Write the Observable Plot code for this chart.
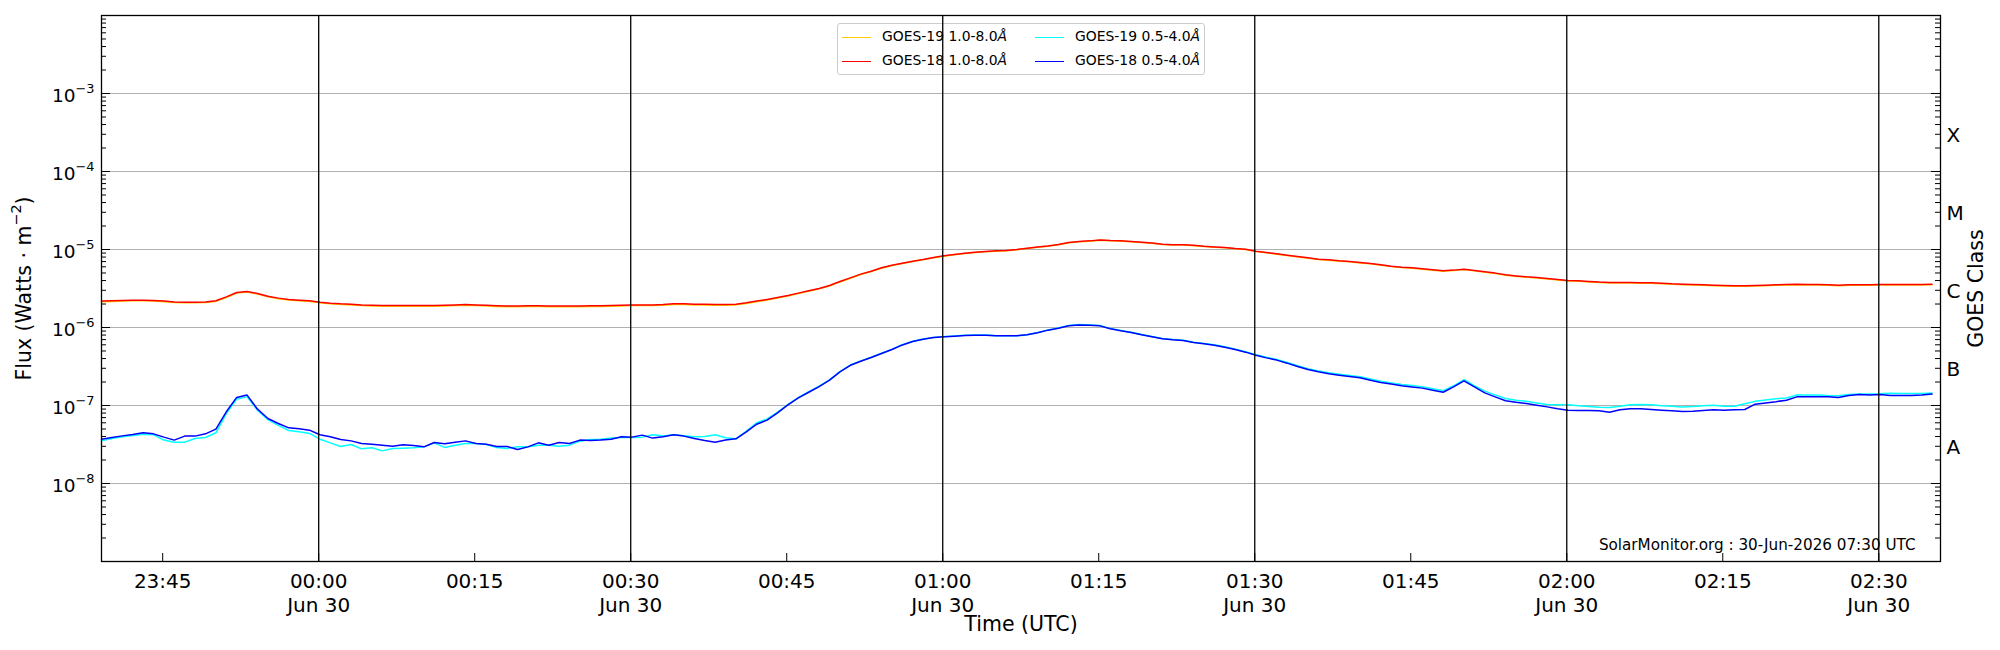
<!DOCTYPE html>
<html>
<head>
<meta charset="utf-8">
<script src="https://cdn.jsdelivr.net/npm/d3@7"></script>
<script src="https://cdn.jsdelivr.net/npm/@observablehq/plot@0.6"></script>
<style>
  html, body { margin: 0; padding: 0; background: white; }
  #wrap { position: relative; width: 2000px; height: 650px; font-family: "DejaVu Sans", sans-serif; }
  #legend { position: absolute; left: 837px; top: 23px; width: 366px; height: 50px; border: 1px solid #cccccc; border-radius: 3px; background: rgba(255,255,255,0.8); z-index: 0; font-family: "DejaVu Sans", sans-serif; font-size: 13.9px; color: #000; }
  #legend .ln { position: absolute; width: 29px; height: 0; border-top: 1.5px solid; }
  #legend .tx { position: absolute; white-space: nowrap; line-height: 1; font-family: "DejaVu Sans", sans-serif; }
  #chart { position: absolute; left: 0; top: 0; z-index: 1; }
</style>
</head>
<body>
<div id="wrap">
  <div id="legend"></div>
  <div id="chart"></div>
</div>
<script>
// ---------- data (1-minute cadence) ----------
const dataStart = "2026-06-29T23:39:07Z";
const cadenceMinutes = 1;
const xDomain = ["2026-06-29T23:39:07Z", "2026-06-30T02:35:56Z"];

const goes19Long = [
2.14e-6,2.16e-6,2.18e-6,2.20e-6,2.20e-6,2.18e-6,2.14e-6,2.09e-6,2.07e-6,2.07e-6,
2.09e-6,2.16e-6,2.42e-6,2.76e-6,2.85e-6,2.68e-6,2.47e-6,2.34e-6,2.25e-6,2.20e-6,
2.16e-6,2.07e-6,2.01e-6,1.97e-6,1.95e-6,1.91e-6,1.89e-6,1.87e-6,1.87e-6,1.87e-6,
1.87e-6,1.87e-6,1.87e-6,1.89e-6,1.91e-6,1.93e-6,1.91e-6,1.89e-6,1.86e-6,1.84e-6,
1.84e-6,1.86e-6,1.86e-6,1.84e-6,1.84e-6,1.84e-6,1.84e-6,1.86e-6,1.86e-6,1.87e-6,
1.89e-6,1.91e-6,1.91e-6,1.91e-6,1.93e-6,1.97e-6,1.97e-6,1.95e-6,1.95e-6,1.93e-6,
1.93e-6,1.95e-6,2.03e-6,2.14e-6,2.25e-6,2.38e-6,2.53e-6,2.72e-6,2.92e-6,3.13e-6,
3.41e-6,3.84e-6,4.28e-6,4.77e-6,5.21e-6,5.76e-6,6.23e-6,6.61e-6,7.02e-6,7.37e-6,
7.83e-6,8.21e-6,8.55e-6,8.90e-6,9.16e-6,9.35e-6,9.53e-6,9.63e-6,9.92e-6,1.03e-5,
1.07e-5,1.10e-5,1.15e-5,1.22e-5,1.26e-5,1.28e-5,1.31e-5,1.29e-5,1.28e-5,1.26e-5,
1.23e-5,1.20e-5,1.16e-5,1.14e-5,1.14e-5,1.12e-5,1.09e-5,1.07e-5,1.05e-5,1.02e-5,
1.00e-5,9.43e-6,9.06e-6,8.71e-6,8.37e-6,8.04e-6,7.74e-6,7.43e-6,7.29e-6,7.08e-6,
6.94e-6,6.73e-6,6.55e-6,6.29e-6,6.04e-6,5.87e-6,5.75e-6,5.58e-6,5.42e-6,5.27e-6,
5.38e-6,5.54e-6,5.32e-6,5.11e-6,4.92e-6,4.67e-6,4.53e-6,4.40e-6,4.32e-6,4.19e-6,
4.07e-6,3.95e-6,3.92e-6,3.84e-6,3.77e-6,3.73e-6,3.73e-6,3.73e-6,3.69e-6,3.69e-6,
3.65e-6,3.58e-6,3.54e-6,3.51e-6,3.47e-6,3.44e-6,3.40e-6,3.37e-6,3.37e-6,3.40e-6,
3.44e-6,3.47e-6,3.51e-6,3.54e-6,3.51e-6,3.51e-6,3.47e-6,3.44e-6,3.47e-6,3.47e-6,
3.47e-6,3.51e-6,3.51e-6,3.51e-6,3.51e-6,3.51e-6,3.54e-6];

const goes18Long = [
2.18e-6,2.20e-6,2.22e-6,2.24e-6,2.24e-6,2.22e-6,2.18e-6,2.13e-6,2.11e-6,2.11e-6,
2.13e-6,2.20e-6,2.47e-6,2.81e-6,2.90e-6,2.73e-6,2.52e-6,2.38e-6,2.29e-6,2.24e-6,
2.20e-6,2.11e-6,2.05e-6,2.01e-6,1.99e-6,1.95e-6,1.93e-6,1.91e-6,1.91e-6,1.91e-6,
1.91e-6,1.91e-6,1.91e-6,1.93e-6,1.95e-6,1.97e-6,1.95e-6,1.93e-6,1.90e-6,1.88e-6,
1.88e-6,1.90e-6,1.90e-6,1.88e-6,1.88e-6,1.88e-6,1.88e-6,1.90e-6,1.90e-6,1.91e-6,
1.93e-6,1.95e-6,1.95e-6,1.95e-6,1.97e-6,2.01e-6,2.01e-6,1.99e-6,1.99e-6,1.97e-6,
1.97e-6,1.99e-6,2.07e-6,2.18e-6,2.29e-6,2.42e-6,2.57e-6,2.76e-6,2.96e-6,3.17e-6,
3.46e-6,3.89e-6,4.33e-6,4.83e-6,5.27e-6,5.82e-6,6.30e-6,6.68e-6,7.09e-6,7.44e-6,
7.90e-6,8.29e-6,8.63e-6,8.98e-6,9.24e-6,9.43e-6,9.61e-6,9.71e-6,1.00e-5,1.04e-5,
1.08e-5,1.11e-5,1.16e-5,1.23e-5,1.27e-5,1.29e-5,1.32e-5,1.30e-5,1.29e-5,1.27e-5,
1.24e-5,1.21e-5,1.17e-5,1.15e-5,1.15e-5,1.13e-5,1.10e-5,1.08e-5,1.06e-5,1.03e-5,
1.01e-5,9.52e-6,9.15e-6,8.80e-6,8.46e-6,8.13e-6,7.82e-6,7.51e-6,7.37e-6,7.16e-6,
7.02e-6,6.81e-6,6.62e-6,6.36e-6,6.11e-6,5.94e-6,5.82e-6,5.65e-6,5.49e-6,5.33e-6,
5.44e-6,5.60e-6,5.38e-6,5.17e-6,4.98e-6,4.73e-6,4.59e-6,4.46e-6,4.38e-6,4.25e-6,
4.12e-6,4.00e-6,3.97e-6,3.89e-6,3.82e-6,3.78e-6,3.78e-6,3.78e-6,3.74e-6,3.74e-6,
3.70e-6,3.63e-6,3.59e-6,3.56e-6,3.52e-6,3.49e-6,3.45e-6,3.42e-6,3.42e-6,3.45e-6,
3.49e-6,3.52e-6,3.56e-6,3.59e-6,3.56e-6,3.56e-6,3.52e-6,3.49e-6,3.52e-6,3.52e-6,
3.52e-6,3.56e-6,3.56e-6,3.56e-6,3.56e-6,3.56e-6,3.59e-6];

const goes19Short = [
3.52e-8,3.78e-8,3.97e-8,4.12e-8,4.29e-8,4.21e-8,3.60e-8,3.39e-8,3.39e-8,3.78e-8,
3.89e-8,4.47e-8,7.89e-8,1.21e-7,1.29e-7,8.70e-8,6.60e-8,5.55e-8,4.78e-8,4.60e-8,
4.38e-8,3.70e-8,3.32e-8,2.98e-8,3.16e-8,2.78e-8,2.87e-8,2.62e-8,2.81e-8,2.84e-8,
2.87e-8,2.95e-8,3.32e-8,2.90e-8,3.10e-8,3.26e-8,3.26e-8,3.16e-8,2.90e-8,2.81e-8,
2.95e-8,2.95e-8,3.10e-8,3.10e-8,3.01e-8,3.10e-8,3.49e-8,3.66e-8,3.70e-8,3.82e-8,
3.89e-8,3.89e-8,3.93e-8,4.21e-8,4.05e-8,4.21e-8,4.08e-8,3.97e-8,4.01e-8,4.21e-8,
3.86e-8,3.74e-8,4.69e-8,6.00e-8,6.74e-8,8.20e-8,1.03e-7,1.26e-7,1.50e-7,1.77e-7,
2.13e-7,2.72e-7,3.30e-7,3.73e-7,4.15e-7,4.68e-7,5.25e-7,6.02e-7,6.65e-7,7.10e-7,
7.47e-7,7.62e-7,7.78e-7,7.93e-7,8.00e-7,8.00e-7,7.86e-7,7.85e-7,7.86e-7,8.09e-7,
8.60e-7,9.30e-7,9.86e-7,1.06e-6,1.09e-6,1.08e-6,1.06e-6,9.68e-7,9.13e-7,8.69e-7,
8.11e-7,7.65e-7,7.22e-7,7.01e-7,6.87e-7,6.48e-7,6.24e-7,6.00e-7,5.65e-7,5.28e-7,
4.89e-7,4.48e-7,4.15e-7,3.89e-7,3.56e-7,3.23e-7,2.97e-7,2.78e-7,2.63e-7,2.52e-7,
2.43e-7,2.34e-7,2.18e-7,2.04e-7,1.95e-7,1.86e-7,1.80e-7,1.74e-7,1.64e-7,1.55e-7,
1.79e-7,2.14e-7,1.80e-7,1.53e-7,1.37e-7,1.23e-7,1.17e-7,1.13e-7,1.08e-7,1.03e-7,
1.02e-7,1.02e-7,9.90e-8,9.70e-8,9.50e-8,9.40e-8,9.80e-8,1.02e-7,1.03e-7,1.02e-7,
9.90e-8,9.80e-8,9.60e-8,9.70e-8,9.90e-8,1.01e-7,9.80e-8,9.80e-8,1.05e-7,1.13e-7,
1.18e-7,1.22e-7,1.25e-7,1.36e-7,1.36e-7,1.36e-7,1.34e-7,1.33e-7,1.38e-7,1.40e-7,
1.40e-7,1.41e-7,1.44e-7,1.43e-7,1.43e-7,1.43e-7,1.45e-7];

const goes18Short = [
3.70e-8,3.89e-8,4.08e-8,4.25e-8,4.47e-8,4.33e-8,3.93e-8,3.60e-8,4.05e-8,4.05e-8,
4.33e-8,4.98e-8,8.30e-8,1.27e-7,1.36e-7,8.97e-8,6.81e-8,5.87e-8,5.17e-8,5.03e-8,
4.83e-8,4.21e-8,3.97e-8,3.66e-8,3.52e-8,3.26e-8,3.19e-8,3.10e-8,3.01e-8,3.13e-8,
3.07e-8,2.95e-8,3.36e-8,3.23e-8,3.39e-8,3.52e-8,3.26e-8,3.19e-8,2.98e-8,2.98e-8,
2.73e-8,2.95e-8,3.32e-8,3.10e-8,3.36e-8,3.26e-8,3.60e-8,3.56e-8,3.60e-8,3.70e-8,
3.97e-8,3.93e-8,4.17e-8,3.82e-8,3.97e-8,4.21e-8,4.05e-8,3.78e-8,3.56e-8,3.39e-8,
3.60e-8,3.74e-8,4.60e-8,5.76e-8,6.49e-8,8.05e-8,1.02e-7,1.25e-7,1.48e-7,1.75e-7,
2.11e-7,2.70e-7,3.28e-7,3.70e-7,4.13e-7,4.65e-7,5.22e-7,5.98e-7,6.61e-7,7.07e-7,
7.44e-7,7.59e-7,7.74e-7,7.90e-7,7.97e-7,7.97e-7,7.82e-7,7.82e-7,7.82e-7,8.05e-7,
8.55e-7,9.25e-7,9.81e-7,1.05e-6,1.08e-6,1.07e-6,1.05e-6,9.62e-7,9.07e-7,8.63e-7,
8.05e-7,7.59e-7,7.16e-7,6.95e-7,6.81e-7,6.42e-7,6.18e-7,5.94e-7,5.59e-7,5.22e-7,
4.83e-7,4.42e-7,4.08e-7,3.82e-7,3.49e-7,3.16e-7,2.90e-7,2.70e-7,2.55e-7,2.45e-7,
2.36e-7,2.27e-7,2.11e-7,1.97e-7,1.88e-7,1.79e-7,1.73e-7,1.67e-7,1.57e-7,1.48e-7,
1.73e-7,2.07e-7,1.73e-7,1.45e-7,1.29e-7,1.15e-7,1.10e-7,1.06e-7,1.01e-7,9.60e-8,
9.06e-8,8.71e-8,8.63e-8,8.63e-8,8.55e-8,8.21e-8,8.80e-8,9.06e-8,9.06e-8,8.89e-8,
8.71e-8,8.55e-8,8.38e-8,8.46e-8,8.63e-8,8.80e-8,8.71e-8,8.80e-8,8.89e-8,1.04e-7,
1.08e-7,1.12e-7,1.17e-7,1.29e-7,1.29e-7,1.29e-7,1.29e-7,1.27e-7,1.34e-7,1.38e-7,
1.36e-7,1.38e-7,1.34e-7,1.34e-7,1.34e-7,1.36e-7,1.40e-7];

const seriesNames = ["GOES-19 1.0-8.0Å", "GOES-18 1.0-8.0Å", "GOES-19 0.5-4.0Å", "GOES-18 0.5-4.0Å"];
const seriesColors = ["#ffcc00", "#ff0000", "#00ffff", "#0000ff"];
const seriesValues = [goes19Long, goes18Long, goes19Short, goes18Short];

// ---------- axis tick values / labels ----------
const xTickTimes = ["2026-06-29T23:45Z","2026-06-30T00:00Z","2026-06-30T00:15Z","2026-06-30T00:30Z",
  "2026-06-30T00:45Z","2026-06-30T01:00Z","2026-06-30T01:15Z","2026-06-30T01:30Z",
  "2026-06-30T01:45Z","2026-06-30T02:00Z","2026-06-30T02:15Z","2026-06-30T02:30Z"];
const xTickLabels = ["23:45","00:00\nJun 30","00:15","00:30\nJun 30","00:45","01:00\nJun 30",
  "01:15","01:30\nJun 30","01:45","02:00\nJun 30","02:15","02:30\nJun 30"];
const xDayLines = ["2026-06-30T00:00Z","2026-06-30T00:30Z","2026-06-30T01:00Z",
  "2026-06-30T01:30Z","2026-06-30T02:00Z","2026-06-30T02:30Z"];
const yTickValues = [1e-8, 1e-7, 1e-6, 1e-5, 1e-4, 1e-3];
const yTickLabels = ["10^{−8}","10^{−7}","10^{−6}","10^{−5}","10^{−4}","10^{−3}"];
const yDecades = [1e-9, 1e-8, 1e-7, 1e-6, 1e-5, 1e-4, 1e-3];
const classLetters = ["A", "B", "C", "M", "X"];
const classPositions = [3.16e-8, 3.16e-7, 3.16e-6, 3.16e-5, 3.16e-4];
const yLabel = "Flux (Watts · m^{−2})";
const xLabel = "Time (UTC)";
const rightLabel = "GOES Class";
const caption = "SolarMonitor.org : 30-Jun-2026 07:30 UTC";

// ---------- build ----------
const startMs = Date.parse(dataStart);
const seriesRows = seriesValues.map(vals => vals.map((v, k) => ({time: new Date(startMs + k * cadenceMinutes * 60000), value: v})));
const minorTicks = [];
yDecades.forEach(d => { for (let m = 2; m <= 9; m++) minorTicks.push(m * d); });
const majorTicks = yDecades.concat([1e-2]);

const W = 2000, H = 650, mL = 101, mR = 60, mT = 15, mB = 89;
const pW = W - mL - mR, pH = H - mT - mB;
const FONT = "DejaVu Sans";

const marks = [
  Plot.ruleY(yTickValues, {y: d => d, stroke: "#b0b0b0", strokeWidth: 1}),
  // inward y ticks (left and right)
  Plot.ruleY(minorTicks, {y: d => d, insetRight: pW - 5, stroke: "black", strokeWidth: 1}),
  Plot.ruleY(majorTicks, {y: d => d, insetRight: pW - 9, stroke: "black", strokeWidth: 1}),
  Plot.ruleY(minorTicks, {y: d => d, insetLeft: pW - 5, stroke: "black", strokeWidth: 1}),
  Plot.ruleY(majorTicks, {y: d => d, insetLeft: pW - 9, stroke: "black", strokeWidth: 1}),
  // inward x ticks
  Plot.ruleX(xTickTimes, {x: d => new Date(d), insetTop: pH - 8, stroke: "black", strokeWidth: 1}),
  ...seriesRows.map((rows, i) => Plot.line(rows, {x: "time", y: "value", stroke: seriesColors[i], strokeWidth: 1.5})),
  Plot.ruleX(xDayLines, {x: d => new Date(d), stroke: "black", strokeWidth: 1.3}),
  Plot.frame({stroke: "black", strokeWidth: 1.3}),
  // tick labels
  Plot.text(xTickTimes, {x: d => new Date(d), frameAnchor: "bottom", text: (d, i) => xTickLabels[i],
    lineAnchor: "top", lineHeight: 1.2, dy: 9, fontSize: 20, fill: "black"}),
  Plot.text(yTickValues, {y: d => d, frameAnchor: "left", text: (d, i) => yTickLabels[i],
    textAnchor: "end", dx: -7, dy: 3, fontSize: 18.5, fill: "black"}),
  Plot.text(classPositions, {y: d => d, frameAnchor: "right", text: (d, i) => classLetters[i],
    textAnchor: "start", dx: 6, dy: 3, fontSize: 20, fill: "black"}),
  // axis titles
  Plot.text([xLabel], {frameAnchor: "bottom", text: d => d, textAnchor: "middle", lineAnchor: "bottom", dy: 69, fontSize: 20.5, fill: "black"}),
  Plot.text([yLabel], {frameAnchor: "left", text: d => d, textAnchor: "middle", rotate: -90, dx: -77, fontSize: 20.5, fill: "black"}),
  Plot.text([rightLabel], {frameAnchor: "right", text: d => d, textAnchor: "middle", rotate: -90, dx: 36, fontSize: 20.5, fill: "black"}),
  Plot.text([caption], {frameAnchor: "bottom-right", text: d => d, textAnchor: "end", lineAnchor: "bottom",
    dx: -25, dy: -12, fontSize: 15.2, fill: "black"})
];

const svg = Plot.plot({
  width: W, height: H,
  marginLeft: mL, marginRight: mR, marginTop: mT, marginBottom: mB,
  x: {type: "utc", domain: xDomain.map(d => new Date(d)), axis: null},
  y: {type: "log", domain: [1e-9, 1e-2], axis: null},
  style: {background: "transparent", fontFamily: FONT, fontSize: "20px", color: "black", overflow: "visible"},
  marks
});

// superscripts as real tspans
const NS = "http://www.w3.org/2000/svg";
svg.querySelectorAll("text").forEach(t => {
  if (t.children.length) return;
  const s = t.textContent;
  if (!s.includes("^{")) return;
  t.textContent = "";
  const re = /\^\{([^}]*)\}/g;
  let last = 0, m, raised = false;
  const add = (str, attrs) => {
    const ts = document.createElementNS(NS, "tspan");
    for (const k in attrs) if (k !== "size") ts.setAttribute(k, attrs[k]);
    if (attrs.size) ts.style.fontSize = attrs.size;
    ts.textContent = str; t.appendChild(ts);
  };
  while ((m = re.exec(s))) {
    if (m.index > last) { add(s.slice(last, m.index), raised ? {dy: "0.49em"} : {}); raised = false; }
    add(m[1], {dy: "-0.7em", size: "0.7em"});
    raised = true;
    last = re.lastIndex;
  }
  if (last < s.length) add(s.slice(last), raised ? {dy: "0.49em"} : {});
});

document.getElementById("chart").appendChild(svg);

// ---------- legend (matplotlib style, 2 columns, column-major) ----------
const legend = document.getElementById("legend");
const colX = [4, 197], rowY = [13.5, 37.5];
seriesNames.forEach((name, i) => {
  const col = Math.floor(i / 2), row = i % 2;
  const ln = document.createElement("div");
  ln.className = "ln";
  ln.style.left = colX[col] + "px";
  ln.style.top = (rowY[row] - 0.75) + "px";
  ln.style.borderTopColor = seriesColors[i];
  legend.appendChild(ln);
  const tx = document.createElement("div");
  tx.className = "tx";
  tx.style.left = (colX[col] + 40) + "px";
  tx.style.top = (rowY[row] - 8) + "px";
  const base = name.replace("Å", "");
  tx.appendChild(document.createTextNode(base));
  const em = document.createElement("i");
  em.textContent = "Å";
  tx.appendChild(em);
  legend.appendChild(tx);
});
</script>
</body>
</html>
